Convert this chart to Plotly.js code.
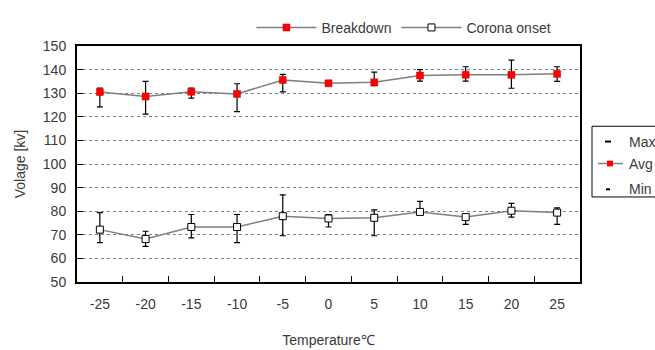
<!DOCTYPE html>
<html>
<head>
<meta charset="utf-8">
<script src="https://cdn.plot.ly/plotly-3.0.1.min.js"></script>
<style>html,body{margin:0;padding:0;background:#fff;}#chart{width:655px;height:350px;}</style>
</head>
<body>
<div id="chart"></div>
<script>
const temperatures = ["-25","-20","-15","-10","-5","0","5","10","15","20","25"];
const breakdownAvg = [130.5,128.6,130.6,129.7,135.6,134.2,134.6,137.5,137.8,137.8,138.2];
const breakdownMax = [132.2,135.0,132.2,134.0,138.0,134.6,138.9,140.0,141.2,144.0,141.2];
const breakdownMin = [124.2,121.1,127.9,122.2,130.6,133.8,133.2,135.1,135.1,132.1,135.0];
const coronaAvg = [72.2,68.2,73.3,73.3,77.9,76.9,77.2,79.7,77.5,80.2,79.4];
const coronaMax = [79.4,71.5,78.6,78.6,86.9,78.6,80.6,84.2,78.6,83.3,81.4];
const coronaMin = [66.7,65.1,68.7,66.7,69.6,73.3,69.6,78.6,74.4,77.5,74.4];
const yTicks = [50,60,70,80,90,100,110,120,130,140,150];
const sideLegendLabels = ["Max","Avg","Min"];

function plus(max, avg){ return max.map((m,i)=>Math.max(0, m-avg[i])); }
function minus(min, avg){ return min.map((m,i)=>Math.max(0, avg[i]-m)); }

const font = "Liberation Sans, Arial, sans-serif";
const txt = "#3a3a3a";

const traces = [
  {
    x: temperatures, y: breakdownAvg, name: "Breakdown", type: "scatter", mode: "lines+markers",
    line: {color: "#7f7f7f", width: 1.5},
    marker: {symbol: "square", size: 7, color: "#ff0000", line: {color: "#cc0000", width: 0.5}},
    error_y: {type: "data", symmetric: false, array: plus(breakdownMax, breakdownAvg), arrayminus: minus(breakdownMin, breakdownAvg), color: "#000", thickness: 1.2, width: 3}
  },
  {
    x: temperatures, y: coronaAvg, name: "Corona onset", type: "scatter", mode: "lines+markers",
    line: {color: "#7f7f7f", width: 1.5},
    marker: {symbol: "square", size: 7, color: "#ffffff", line: {color: "#000", width: 1}},
    error_y: {type: "data", symmetric: false, array: plus(coronaMax, coronaAvg), arrayminus: minus(coronaMin, coronaAvg), color: "#000", thickness: 1.2, width: 3}
  }
];

const x0 = 592, textX = 627;
const rowsY = [135, 158, 185];
const shapes = [
  {type: "rect", xref: "paper", yref: "paper", x0: (x0-77)/503, x1: (700-77)/503, y0: (282-193)/247, y1: (282-119)/247, line: {color: "#000", width: 1}, fillcolor: "rgba(0,0,0,0)"},
  {type: "line", xref: "paper", yref: "paper", x0: (605-77)/503, x1: (611-77)/503, y0: (282-rowsY[0])/247, y1: (282-rowsY[0])/247, line: {color: "#000", width: 2}},
  {type: "line", xref: "paper", yref: "paper", x0: (598-77)/503, x1: (623-77)/503, y0: (282-rowsY[1])/247, y1: (282-rowsY[1])/247, line: {color: "#7f7f7f", width: 1.5}},
  {type: "rect", xref: "paper", yref: "paper", x0: (607-77)/503, x1: (613-77)/503, y0: (282-rowsY[1]-3)/247, y1: (282-rowsY[1]+3)/247, line: {color: "#ff0000", width: 0}, fillcolor: "#ff0000"},
  {type: "line", xref: "paper", yref: "paper", x0: (606-77)/503, x1: (610-77)/503, y0: (282-rowsY[2])/247, y1: (282-rowsY[2])/247, line: {color: "#000", width: 2}}
];
const annotations = sideLegendLabels.map((t,i)=>({
  text: t, xref: "paper", yref: "paper", x: (textX-77)/503, y: (282-rowsY[i])/247,
  xanchor: "left", yanchor: "middle", showarrow: false, font: {family: font, size: 14, color: txt}
}));

const layout = {
  width: 655, height: 350,
  margin: {l: 77, r: 75, t: 35, b: 68},
  paper_bgcolor: "#fff", plot_bgcolor: "#fff",
  font: {family: font, size: 14, color: txt},
  showlegend: true,
  legend: {orientation: "h", x: 0.65, xanchor: "center", y: 1.077, yanchor: "middle", font: {family: font, size: 14, color: txt}, bgcolor: "rgba(0,0,0,0)", itemwidth: 60, tracegroupgap: 0},
  xaxis: {
    type: "category", categoryorder: "array", categoryarray: temperatures,
    range: [-0.5, 10.5], tickson: "boundaries", ticks: "inside", ticklen: 6, tickcolor: "#000",
    showgrid: false, showline: true, linecolor: "#000", linewidth: 2, mirror: true, zeroline: false,
    ticklabelstandoff: 8,
    tickfont: {family: font, size: 14, color: txt},
    title: {text: "Temperature℃", font: {family: font, size: 14, color: txt}, standoff: 24}
  },
  yaxis: {
    range: [50, 150], tickvals: yTicks, ticks: "inside", ticklen: 6, tickcolor: "#000",
    showgrid: true, gridcolor: "#808080", griddash: "dot", gridwidth: 1,
    showline: true, linecolor: "#000", linewidth: 2, mirror: true, zeroline: false,
    ticklabelstandoff: 6,
    tickfont: {family: font, size: 14, color: txt},
    title: {text: "Volage [kv]", font: {family: font, size: 14, color: txt}, standoff: 14}
  },
  shapes: shapes,
  annotations: annotations
};

Plotly.newPlot("chart", traces, layout, {displayModeBar: false, staticPlot: true});
</script>
</body>
</html>
